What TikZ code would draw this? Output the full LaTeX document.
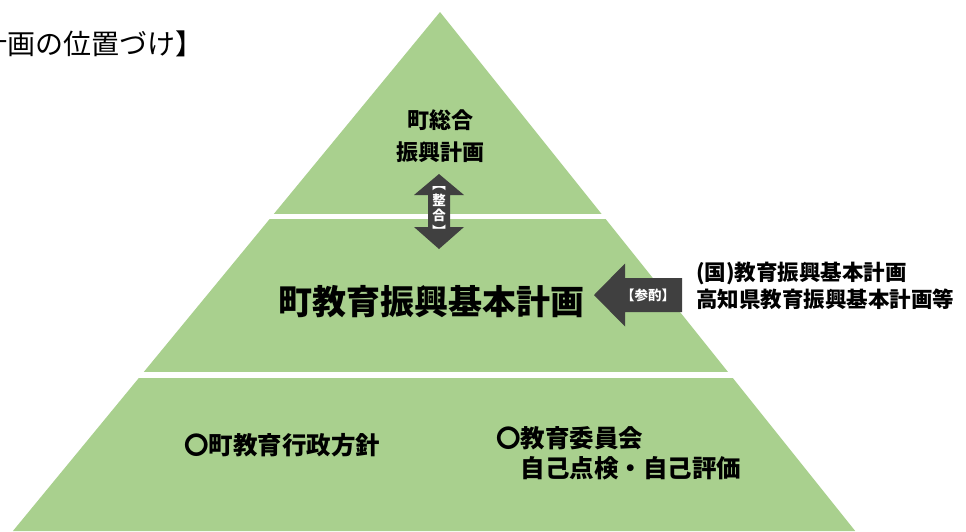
\documentclass[tikz,border=0pt]{standalone}
\usepackage{fontspec}
\setmainfont{Noto Sans CJK JP}
\definecolor{plangreen}{HTML}{A9D08E}
\definecolor{arrowgray}{HTML}{404040}
\tikzset{
	lbl/.style={inner sep=0pt,font=\bfseries},
	arrowlbl/.style={inner sep=0pt,text=white,align=center,font=\bfseries\fontsize{13.5}{14}\selectfont}
}

\begin{document}
\begin{tikzpicture}[x=1pt,y=-1pt]
			\useasboundingbox (0,0) rectangle (966,531);
			\coordinate (A) at (440,12);
			\coordinate (B) at (12.9,531);
			\coordinate (C) at (855.2,531);
			\fill[plangreen] (A)--(B)--(C)--cycle;
			\draw[white,line width=5pt] (250,216.5)--(630,216.5);
			\draw[white,line width=6pt] (110,375)--(760,375);
			\node[anchor=east,inner sep=0pt,font=\fontsize{28}{28}\selectfont] (title) at (204,44) {【町教育振興基本計画の位置づけ】};
			\node[lbl,align=center,font=\bfseries\fontsize{22}{32}\selectfont] (sogo) at (440,136) {町総合\\振興計画};
			\fill[arrowgray] (439,174)--(464,195)--(450,195)--(450,227)--(464,227)--(439,249)--(414,227)--(428,227)--(428,195)--(414,195)--cycle;
			\node[arrowlbl,font=\bfseries\fontsize{13.5}{15.5}\selectfont] (seigo) at (439,211.5) {︻\\整\\合\\︼};
			\node[lbl,font=\bfseries\fontsize{34}{34}\selectfont] (kihon) at (431,302) {町教育振興基本計画};
			\fill[arrowgray] (594,295)--(625,263.5)--(625,278)--(682,278)--(682,312)--(625,312)--(625,326.5)--cycle;
			\node[arrowlbl] (sanshaku) at (648,295) {【参酌】};
			\node[lbl,anchor=west,align=left,font=\bfseries\fontsize{21.5}{27}\selectfont] (kuni) at (696,286) {(国)教育振興基本計画\\高知県教育振興基本計画等};
			\node[lbl,anchor=west,font=\bfseries\fontsize{24.5}{30}\selectfont] (hoshin) at (184,445) {〇町教育行政方針};
			\node[lbl,anchor=west,align=left,font=\bfseries\fontsize{24.5}{30}\selectfont] (iinkai) at (496,453) {〇教育委員会\\　自己点検・自己評価};
		\end{tikzpicture}
\end{document}
